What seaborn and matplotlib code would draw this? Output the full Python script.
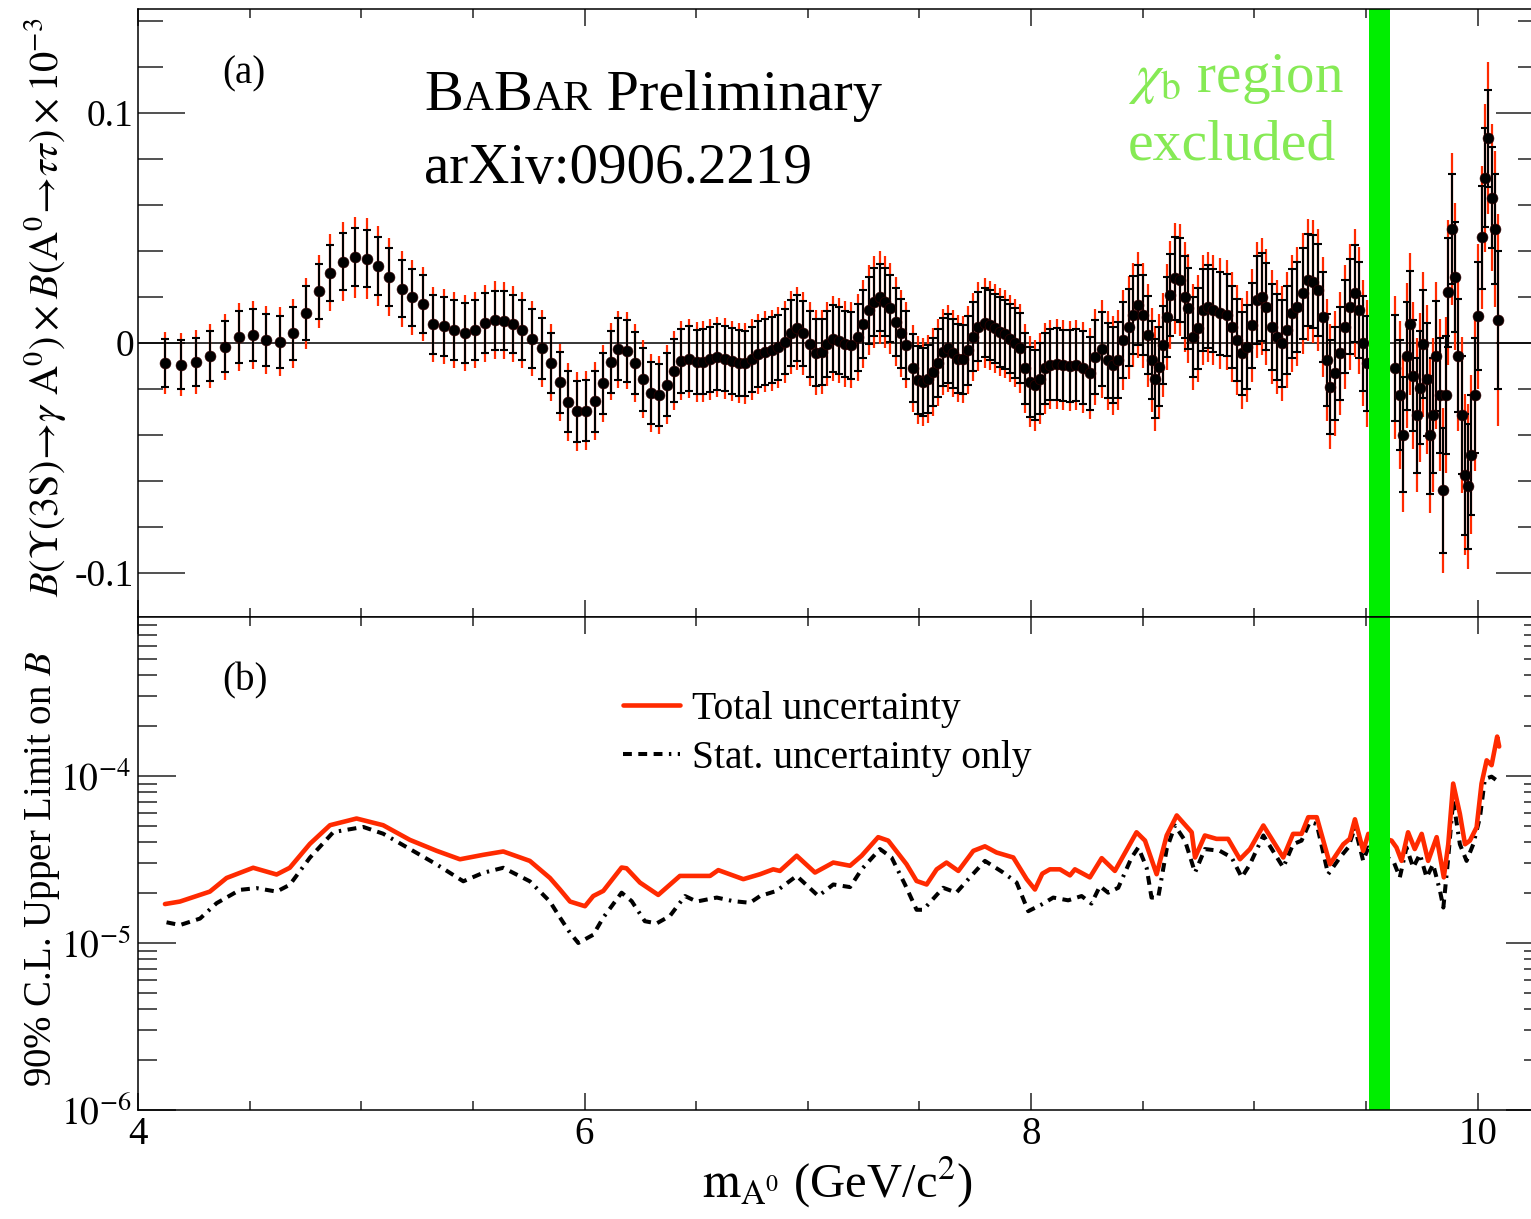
import matplotlib
matplotlib.use("Agg")
import numpy as np
import pandas as pd
import seaborn as sns
import matplotlib.pyplot as plt
from matplotlib.ticker import MultipleLocator, LogLocator, NullFormatter
from matplotlib.offsetbox import TextArea, HPacker, AnchoredOffsetbox

# ---------------- panel (a): branching fraction x 1e-3 ----------------
mass = [
    4.121, 4.193, 4.258, 4.322, 4.390, 4.452, 4.516, 4.573, 4.636, 4.695,
    4.752, 4.810, 4.860, 4.917, 4.972, 5.024, 5.076, 5.125, 5.181, 5.229,
    5.275, 5.322, 5.369, 5.417, 5.464, 5.509, 5.554, 5.599, 5.640, 5.681,
    5.720, 5.766, 5.808, 5.848, 5.890, 5.927, 5.965, 6.006, 6.045, 6.084,
    6.118, 6.151, 6.188, 6.224, 6.263, 6.296, 6.333, 6.368, 6.400, 6.432,
    6.468, 6.502, 6.530, 6.561, 6.594, 6.628, 6.660, 6.690, 6.720, 6.748,
    6.778, 6.808, 6.838, 6.868, 6.897, 6.924, 6.952, 6.980,
    7.009, 7.036, 7.062, 7.088, 7.114, 7.140, 7.166, 7.193, 7.223, 7.245,
    7.273, 7.297, 7.323, 7.345, 7.368, 7.394, 7.417, 7.439, 7.469, 7.495,
    7.517, 7.540, 7.562, 7.584, 7.606, 7.629, 7.651, 7.673, 7.696, 7.718,
    7.740, 7.763, 7.793, 7.815, 7.838, 7.860, 7.883, 7.905, 7.927, 7.950,
    7.972, 7.995, 8.017, 8.039, 8.062, 8.084, 8.114, 8.143, 8.174, 8.203,
    8.233, 8.263,
    8.285, 8.316, 8.342, 8.368, 8.390, 8.412, 8.439, 8.457, 8.480, 8.502,
    8.525, 8.540, 8.554, 8.574, 8.592, 8.610, 8.622, 8.644, 8.667, 8.689,
    8.704, 8.726, 8.748, 8.771, 8.793, 8.816, 8.845, 8.875, 8.898, 8.920,
    8.943, 8.965, 8.987, 9.010, 9.032, 9.054, 9.077, 9.099, 9.122, 9.144,
    9.166, 9.189, 9.218, 9.241, 9.263, 9.286, 9.308, 9.326, 9.338, 9.360,
    9.383, 9.405, 9.427, 9.450, 9.470, 9.487, 9.505,
    9.629, 9.651, 9.667, 9.681, 9.696, 9.711, 9.726, 9.741, 9.756, 9.771,
    9.786, 9.800, 9.815, 9.831, 9.846, 9.856, 9.868, 9.883, 9.897, 9.913,
    9.928, 9.943, 9.957, 9.972, 9.987, 10.002, 10.017, 10.032, 10.047, 10.062,
    10.077, 10.092,
]
br_value = [
    -0.0086, -0.0093, -0.0081, -0.0055, -0.0016, 0.0027, 0.0036, 0.0013, 0.0005, 0.0043,
    0.0130, 0.0225, 0.0306, 0.0354, 0.0374, 0.0367, 0.0335, 0.0288, 0.0237, 0.0199,
    0.0171, 0.0082, 0.0073, 0.0056, 0.0043, 0.0056, 0.0086, 0.0100, 0.0097, 0.0083,
    0.0057, 0.0020, -0.0023, -0.0086, -0.0171, -0.0255, -0.0296, -0.0294, -0.0252, -0.0174,
    -0.0081, -0.0027, -0.0033, -0.0086, -0.0157, -0.0216, -0.0225, -0.0180, -0.0120, -0.0077,
    -0.0067, -0.0081, -0.0080, -0.0071, -0.0060, -0.0067, -0.0077, -0.0086, -0.0088, -0.0071,
    -0.0048, -0.0038, -0.0030, -0.0019, 0.0006, 0.0045, 0.0064, 0.0042,
    -0.0004, -0.0042, -0.0038, -0.0004, 0.0020, 0.0010, -0.0004, -0.0009, 0.0025, 0.0083,
    0.0143, 0.0180, 0.0199, 0.0180, 0.0151, 0.0093, 0.0042, -0.0009, -0.0110, -0.0160,
    -0.0168, -0.0154, -0.0125, -0.0086, -0.0038, -0.0023, -0.0045, -0.0067, -0.0071, -0.0030,
    0.0027, 0.0071, 0.0088, 0.0078, 0.0064, 0.0049, 0.0038, 0.0020, 0.0001, -0.0023,
    -0.0110, -0.0168, -0.0183, -0.0154, -0.0110, -0.0093, -0.0091, -0.0096, -0.0099, -0.0096,
    -0.0106, -0.0132,
    -0.0060, -0.0025, -0.0075, -0.0096, -0.0074, 0.0013, 0.0068, 0.0122, 0.0165, 0.0122,
    0.0035, -0.0074, -0.0154, -0.0103, -0.0009, 0.0114, 0.0209, 0.0281, 0.0274, 0.0201,
    0.0151, 0.0027, 0.0064, 0.0143, 0.0158, 0.0143, 0.0129, 0.0122, 0.0071, 0.0013,
    -0.0045, -0.0016, 0.0078, 0.0187, 0.0201, 0.0158, 0.0071, 0.0027, -0.0001, 0.0057,
    0.0129, 0.0158, 0.0216, 0.0274, 0.0267, 0.0230, 0.0114, -0.0074, -0.0190, -0.0132,
    -0.0045, 0.0071, 0.0158, 0.0216, 0.0143, -0.0001, -0.0088,
    -0.0107, -0.0226, -0.0399, -0.0055, 0.0083, -0.0141, -0.0313, -0.0193, -0.0004, -0.0158,
    -0.0399, -0.0313, -0.0055, -0.0227, -0.0640, -0.0226, 0.0220, 0.0495, 0.0288, -0.0055,
    -0.0313, -0.0571, -0.0623, -0.0485, -0.0227, 0.0117, 0.0460, 0.0718, 0.0890, 0.0632,
    0.0495, 0.0100,
]
err_stat = [
    0.0105, 0.0105, 0.0105, 0.0108, 0.0110, 0.0112, 0.0112, 0.0112, 0.0115, 0.0115,
    0.0118, 0.0120, 0.0122, 0.0125, 0.0125, 0.0125, 0.0125, 0.0125, 0.0125, 0.0125,
    0.0125, 0.0128, 0.0128, 0.0130, 0.0130, 0.0130, 0.0130, 0.0128, 0.0128, 0.0128,
    0.0130, 0.0130, 0.0132, 0.0132, 0.0133, 0.0133, 0.0133, 0.0133, 0.0133, 0.0133,
    0.0135, 0.0135, 0.0135, 0.0135, 0.0136, 0.0136, 0.0136, 0.0136, 0.0138, 0.0138,
    0.0140, 0.0140, 0.0142, 0.0142, 0.0142, 0.0142, 0.0142, 0.0142, 0.0142, 0.0142,
    0.0142, 0.0142, 0.0142, 0.0142, 0.0142, 0.0143, 0.0143, 0.0143,
    0.0144, 0.0145, 0.0145, 0.0145, 0.0145, 0.0145, 0.0145, 0.0146, 0.0146, 0.0146,
    0.0146, 0.0147, 0.0147, 0.0147, 0.0147, 0.0147, 0.0148, 0.0148, 0.0148, 0.0148,
    0.0148, 0.0148, 0.0148, 0.0149, 0.0149, 0.0149, 0.0149, 0.0149, 0.0150, 0.0150,
    0.0150, 0.0150, 0.0150, 0.0151, 0.0151, 0.0151, 0.0151, 0.0152, 0.0152, 0.0152,
    0.0153, 0.0153, 0.0153, 0.0154, 0.0154, 0.0155, 0.0155, 0.0155, 0.0156, 0.0156,
    0.0157, 0.0158,
    0.0160, 0.0162, 0.0163, 0.0165, 0.0164, 0.0166, 0.0168, 0.0171, 0.0174, 0.0172,
    0.0169, 0.0170, 0.0173, 0.0172, 0.0170, 0.0173, 0.0178, 0.0182, 0.0182, 0.0179,
    0.0177, 0.0174, 0.0176, 0.0179, 0.0180, 0.0180, 0.0180, 0.0180, 0.0178, 0.0178,
    0.0180, 0.0182, 0.0185, 0.0190, 0.0192, 0.0190, 0.0187, 0.0187, 0.0189, 0.0190,
    0.0193, 0.0195, 0.0198, 0.0201, 0.0201, 0.0199, 0.0197, 0.0200, 0.0205, 0.0203,
    0.0201, 0.0203, 0.0207, 0.0210, 0.0208, 0.0206, 0.0208,
    0.0230, 0.0240, 0.0250, 0.0235, 0.0230, 0.0240, 0.0250, 0.0245, 0.0235, 0.0245,
    0.0255, 0.0250, 0.0240, 0.0250, 0.0270, 0.0255, 0.0235, 0.0240, 0.0240, 0.0245,
    0.0255, 0.0265, 0.0270, 0.0260, 0.0250, 0.0235, 0.0225, 0.0215, 0.0210, 0.0220,
    0.0240, 0.0300,
]
err_total = [
    0.0135, 0.0138, 0.0138, 0.0140, 0.0143, 0.0146, 0.0148, 0.0148, 0.0150, 0.0150,
    0.0155, 0.0160, 0.0168, 0.0172, 0.0176, 0.0175, 0.0172, 0.0168, 0.0165, 0.0162,
    0.0160, 0.0162, 0.0162, 0.0165, 0.0165, 0.0165, 0.0168, 0.0170, 0.0168, 0.0166,
    0.0165, 0.0165, 0.0167, 0.0167, 0.0168, 0.0170, 0.0172, 0.0172, 0.0170, 0.0168,
    0.0168, 0.0168, 0.0168, 0.0168, 0.0170, 0.0170, 0.0170, 0.0170, 0.0172, 0.0172,
    0.0173, 0.0173, 0.0175, 0.0175, 0.0175, 0.0175, 0.0175, 0.0175, 0.0175, 0.0175,
    0.0175, 0.0176, 0.0176, 0.0176, 0.0178, 0.0180, 0.0180, 0.0180,
    0.0182, 0.0184, 0.0184, 0.0183, 0.0184, 0.0184, 0.0185, 0.0186, 0.0188, 0.0192,
    0.0196, 0.0200, 0.0202, 0.0200, 0.0197, 0.0193, 0.0190, 0.0188, 0.0190, 0.0192,
    0.0192, 0.0191, 0.0190, 0.0189, 0.0188, 0.0188, 0.0188, 0.0189, 0.0189, 0.0190,
    0.0191, 0.0193, 0.0194, 0.0193, 0.0192, 0.0192, 0.0191, 0.0191, 0.0191, 0.0192,
    0.0195, 0.0197, 0.0198, 0.0197, 0.0196, 0.0195, 0.0195, 0.0195, 0.0196, 0.0196,
    0.0197, 0.0199,
    0.0210, 0.0212, 0.0214, 0.0216, 0.0216, 0.0218, 0.0222, 0.0226, 0.0230, 0.0228,
    0.0224, 0.0226, 0.0230, 0.0228, 0.0226, 0.0230, 0.0236, 0.0242, 0.0242, 0.0238,
    0.0236, 0.0232, 0.0234, 0.0238, 0.0240, 0.0240, 0.0240, 0.0240, 0.0238, 0.0238,
    0.0240, 0.0242, 0.0246, 0.0252, 0.0254, 0.0252, 0.0248, 0.0248, 0.0250, 0.0252,
    0.0256, 0.0258, 0.0262, 0.0266, 0.0266, 0.0264, 0.0262, 0.0266, 0.0272, 0.0270,
    0.0268, 0.0270, 0.0274, 0.0278, 0.0276, 0.0274, 0.0276,
    0.0310, 0.0320, 0.0335, 0.0315, 0.0310, 0.0320, 0.0335, 0.0325, 0.0315, 0.0325,
    0.0340, 0.0335, 0.0320, 0.0330, 0.0360, 0.0340, 0.0315, 0.0330, 0.0320, 0.0325,
    0.0340, 0.0350, 0.0360, 0.0345, 0.0330, 0.0315, 0.0310, 0.0320, 0.0330, 0.0320,
    0.0340, 0.0460,
]

# ---------------- panel (b): 90% C.L. upper limits ----------------
mass_total = [
    4.121, 4.188, 4.322, 4.397, 4.516, 4.621, 4.680, 4.770, 4.860, 4.979,
    5.098, 5.218, 5.338, 5.442, 5.546, 5.636, 5.755, 5.845, 5.890, 5.935,
    6.002, 6.039, 6.084, 6.166, 6.188, 6.248, 6.330, 6.427, 6.487, 6.562,
    6.599, 6.711, 6.786, 6.845, 6.875, 6.950, 7.032, 7.114, 7.189, 7.241,
    7.315, 7.360, 7.442, 7.487, 7.532, 7.577, 7.621, 7.674, 7.741, 7.793,
    7.845, 7.920, 7.980, 8.017, 8.050, 8.084, 8.129, 8.174, 8.196, 8.263,
    8.316, 8.375, 8.472, 8.510, 8.562, 8.607, 8.652, 8.719, 8.734, 8.778,
    8.830, 8.882, 8.935, 8.980, 9.040, 9.129, 9.173, 9.211, 9.241, 9.279,
    9.338, 9.398, 9.427, 9.450, 9.487, 9.510, 9.614, 9.636, 9.659, 9.688,
    9.718, 9.749, 9.778, 9.816, 9.848, 9.868, 9.890, 9.920, 9.943, 9.965,
    9.995, 10.017, 10.040, 10.062, 10.087, 10.096,
]
limit_total = [
    1.71e-5, 1.77e-5, 2.03e-5, 2.45e-5, 2.82e-5, 2.57e-5, 2.82e-5, 3.92e-5, 5.07e-5, 5.56e-5,
    5.07e-5, 4.14e-5, 3.56e-5, 3.17e-5, 3.37e-5, 3.53e-5, 3.10e-5, 2.45e-5, 2.09e-5, 1.77e-5,
    1.66e-5, 1.91e-5, 2.05e-5, 2.83e-5, 2.80e-5, 2.30e-5, 1.94e-5, 2.52e-5, 2.52e-5, 2.52e-5,
    2.73e-5, 2.41e-5, 2.58e-5, 2.76e-5, 2.70e-5, 3.33e-5, 2.64e-5, 3.03e-5, 2.90e-5, 3.33e-5,
    4.30e-5, 4.10e-5, 2.96e-5, 2.35e-5, 2.24e-5, 2.76e-5, 3.03e-5, 2.70e-5, 3.56e-5, 3.79e-5,
    3.48e-5, 3.25e-5, 2.41e-5, 2.09e-5, 2.60e-5, 2.76e-5, 2.76e-5, 2.54e-5, 2.76e-5, 2.47e-5,
    3.22e-5, 2.70e-5, 4.60e-5, 4.10e-5, 2.58e-5, 4.40e-5, 5.80e-5, 4.60e-5, 3.25e-5, 4.40e-5,
    4.20e-5, 4.20e-5, 3.17e-5, 3.65e-5, 5.05e-5, 3.25e-5, 4.50e-5, 4.50e-5, 5.66e-5, 5.66e-5,
    2.96e-5, 3.90e-5, 4.20e-5, 5.50e-5, 3.56e-5, 4.50e-5, 4.10e-5, 3.73e-5, 3.10e-5, 4.60e-5,
    3.65e-5, 4.50e-5, 3.10e-5, 4.30e-5, 2.47e-5, 3.90e-5, 9.00e-5, 5.93e-5, 3.90e-5, 4.10e-5,
    4.93e-5, 9.00e-5, 1.24e-4, 1.16e-4, 1.72e-4, 1.50e-4,
]
mass_stat = [
    4.128, 4.188, 4.278, 4.352, 4.457, 4.531, 4.621, 4.680, 4.770, 4.875,
    5.009, 5.098, 5.218, 5.338, 5.457, 5.546, 5.636, 5.755, 5.845, 5.890,
    5.935, 5.972, 6.039, 6.084, 6.166, 6.211, 6.270, 6.323, 6.382, 6.450,
    6.502, 6.592, 6.666, 6.741, 6.786, 6.860, 6.950, 7.047, 7.114, 7.189,
    7.241, 7.323, 7.375, 7.435, 7.487, 7.517, 7.606, 7.665, 7.726, 7.793,
    7.875, 7.935, 7.987, 8.047, 8.099, 8.166, 8.226, 8.270, 8.308, 8.345,
    8.390, 8.450, 8.480, 8.517, 8.539, 8.569, 8.607, 8.644, 8.689, 8.734,
    8.778, 8.845, 8.898, 8.943, 8.980, 9.040, 9.129, 9.173, 9.211, 9.248,
    9.279, 9.330, 9.383, 9.420, 9.450, 9.487, 9.510, 9.622, 9.651, 9.681,
    9.711, 9.741, 9.771, 9.800, 9.831, 9.846, 9.868, 9.890, 9.920, 9.950,
    9.980, 10.010, 10.032, 10.062, 10.085,
]
limit_stat = [
    1.33e-5, 1.28e-5, 1.40e-5, 1.73e-5, 2.08e-5, 2.13e-5, 2.03e-5, 2.23e-5, 3.24e-5, 4.61e-5,
    4.95e-5, 4.51e-5, 3.65e-5, 2.95e-5, 2.34e-5, 2.63e-5, 2.82e-5, 2.34e-5, 1.77e-5, 1.42e-5,
    1.15e-5, 1.00e-5, 1.12e-5, 1.42e-5, 2.00e-5, 1.78e-5, 1.35e-5, 1.31e-5, 1.45e-5, 1.91e-5,
    1.77e-5, 1.87e-5, 1.78e-5, 1.74e-5, 1.91e-5, 2.05e-5, 2.52e-5, 1.91e-5, 2.24e-5, 2.16e-5,
    2.76e-5, 3.65e-5, 3.25e-5, 2.24e-5, 1.58e-5, 1.58e-5, 2.14e-5, 2.00e-5, 2.47e-5, 3.10e-5,
    2.64e-5, 2.30e-5, 1.55e-5, 1.70e-5, 1.87e-5, 1.80e-5, 1.91e-5, 1.72e-5, 2.19e-5, 2.00e-5,
    2.14e-5, 3.25e-5, 3.73e-5, 2.83e-5, 1.87e-5, 1.87e-5, 3.65e-5, 5.05e-5, 4.10e-5, 2.64e-5,
    3.65e-5, 3.56e-5, 3.25e-5, 2.47e-5, 2.96e-5, 4.40e-5, 2.83e-5, 3.90e-5, 4.10e-5, 5.30e-5,
    5.15e-5, 2.58e-5, 3.25e-5, 3.73e-5, 4.90e-5, 3.10e-5, 3.73e-5, 3.10e-5, 2.47e-5, 3.73e-5,
    2.83e-5, 3.40e-5, 2.47e-5, 2.96e-5, 2.05e-5, 1.63e-5, 3.25e-5, 7.14e-5, 3.90e-5, 3.10e-5,
    3.90e-5, 5.66e-5, 9.60e-5, 9.90e-5, 9.40e-5,
]

excluded_region = [9.513, 9.607]
x_ticks = [4, 6, 8, 10]
x_tick_labels = ["4", "6", "8", "10"]
y_ticks_a = [-0.1, 0.0, 0.1]
y_tick_labels_a = ["-0.1", "0", "0.1"]
y_ticks_b = [1e-6, 1e-5, 1e-4]
y_tick_labels_b = [r"$10^{-6}$", r"$10^{-5}$", r"$10^{-4}$"]

df_a = pd.DataFrame({"mass": mass, "value": br_value,
                     "stat": err_stat, "total": err_total})
df_tot = pd.DataFrame({"mass": mass_total, "limit": limit_total})
df_stat = pd.DataFrame({"mass": mass_stat, "limit": limit_stat})

sns.set_style("ticks", {"xtick.direction": "in", "ytick.direction": "in"})
plt.rcParams["font.family"] = ["Liberation Serif", "DejaVu Serif"]
plt.rcParams["mathtext.fontset"] = "stix"
plt.rcParams["axes.linewidth"] = 1.1
plt.rcParams["axes.edgecolor"] = "black"
plt.rcParams["text.color"] = "black"
plt.rcParams["axes.labelcolor"] = "black"
plt.rcParams["xtick.color"] = "black"
plt.rcParams["ytick.color"] = "black"

RED = "#ff2a00"
fig = plt.figure(figsize=(15.31, 12.19), dpi=100)
ax1 = fig.add_axes([0.0901, 0.4939, 0.9177, 0.4987])
ax2 = fig.add_axes([0.0901, 0.0894, 0.9177, 0.4045])

# panel (a)
ax1.axhline(0, color="black", lw=1.1, zorder=1)
ax1.errorbar(df_a["mass"], df_a["value"], yerr=df_a["total"], fmt="none",
             ecolor=RED, elinewidth=1.6, capsize=0, zorder=2)
ax1.errorbar(df_a["mass"], df_a["value"], yerr=df_a["stat"], fmt="none",
             ecolor="black", elinewidth=1.5, capsize=3.2, capthick=1.5, zorder=3)
sns.scatterplot(data=df_a, x="mass", y="value", color="black", s=62,
                edgecolor="#3a0000", linewidth=0.4, ax=ax1, zorder=4, legend=False)

# panel (b)
sns.lineplot(data=df_stat, x="mass", y="limit", color="black", lw=2.9,
             linestyle=(0, (2.2, 1.6, 2.2, 1.6, 2.2, 1.6, 0.6, 1.6)),
             ax=ax2, label="Stat. uncertainty only", zorder=2)
sns.lineplot(data=df_tot, x="mass", y="limit", color=RED, lw=3.3,
             ax=ax2, label="Total uncertainty", zorder=3)
ax2.set_yscale("log")

for ax in (ax1, ax2):
    ax.axvspan(excluded_region[0], excluded_region[1], color="#00ee00", lw=0, zorder=6)
    ax.set_xlim(4.0, 10.292)
    ax.xaxis.set_major_locator(MultipleLocator(2))
    ax.xaxis.set_minor_locator(MultipleLocator(0.5))
    ax.tick_params(axis="x", which="both", top=True, bottom=True, width=1.1, color="#222222")
    ax.tick_params(axis="x", which="major", length=12)
    ax.tick_params(axis="x", which="minor", length=6.5)
    ax.tick_params(axis="y", which="both", left=True, right=True, width=1.1, color="#222222")
    ax.set_xlabel("")
    ax.set_ylabel("")
    for s in ax.spines.values():
        s.set_zorder(7)

ax1.tick_params(axis="x", labelbottom=False)
ax1.set_ylim(-0.119, 0.1452)
ax1.set_yticks(y_ticks_a, labels=y_tick_labels_a)
ax1.yaxis.set_minor_locator(MultipleLocator(0.02))
ax1.tick_params(axis="y", which="major", length=34, labelsize=27, pad=3)
ax1.tick_params(axis="y", which="minor", length=18)

ax2.set_ylim(1e-6, 8.95e-4)
ax2.set_yticks(y_ticks_b, labels=y_tick_labels_b)
ax2.yaxis.set_minor_locator(LogLocator(base=10, subs=np.arange(2, 10)))
ax2.yaxis.set_minor_formatter(NullFormatter())
ax2.tick_params(axis="y", which="major", length=27, labelsize=27, pad=5)
ax2.tick_params(axis="y", which="minor", length=14)
ax2.set_xticks(x_ticks, labels=x_tick_labels)
ax2.tick_params(axis="x", which="major", labelsize=28, pad=4)

# axis titles
ax1.set_ylabel(r"$\mathit{B}(\Upsilon(3\mathrm{S})\!\rightarrow\!\gamma\ \mathrm{A}^0)\times"
               r"\mathit{B}(\mathrm{A}^0\!\rightarrow\!\tau\tau)\times 10^{-3}$", fontsize=29)
ax1.yaxis.set_label_coords(-0.05, 0.51)
ax2.set_ylabel(r"90% C.L. Upper Limit on $\mathit{B}$", fontsize=28)
ax2.yaxis.set_label_coords(-0.054, 0.49)
ax2.set_xlabel(r"$\mathrm{m}_{\mathrm{A}^0}$ (GeV/c$^2$)", fontsize=35)
ax2.xaxis.set_label_coords(0.498, -0.09)

# legend
ax2.legend(loc="upper left", bbox_to_anchor=(0.345, 0.85), frameon=False,
           fontsize=28.5, handlelength=1.45, handletextpad=0.3,
           labelspacing=0.3, borderaxespad=0, borderpad=0,
           handles=ax2.lines[::-1][:2], labels=["Total uncertainty", "Stat. uncertainty only"])

# panel tags and annotations
ax1.text(4.376, 0.113, "(a)", fontsize=28, va="baseline")
ax2.text(4.376, 3.25e-4, "(b)", fontsize=28, va="baseline")

parts = [("B", 42), ("A", 31), ("B", 42), ("AR", 31), (" Preliminary", 42)]
boxes = [TextArea(t, textprops=dict(fontsize=fs, family="Liberation Serif", color="black"))
         for t, fs in parts]
pack = HPacker(children=boxes, align="baseline", pad=0, sep=0)
ax1.add_artist(AnchoredOffsetbox(loc="lower left", child=pack, bbox_to_anchor=(5.281, 0.0962),
                                 bbox_transform=ax1.transData, frameon=False, pad=0, borderpad=0))
ax1.text(5.281, 0.0696, "arXiv:0906.2219", fontsize=41, va="baseline")

GREEN_TXT = "#86ea55"
ax1.text(8.434, 0.109, r"$\chi_\mathrm{b}$ region", fontsize=41, va="baseline", color=GREEN_TXT)
ax1.text(8.434, 0.0796, "excluded", fontsize=41.5, va="baseline", color=GREEN_TXT)

fig.savefig("out.png", dpi=100)
